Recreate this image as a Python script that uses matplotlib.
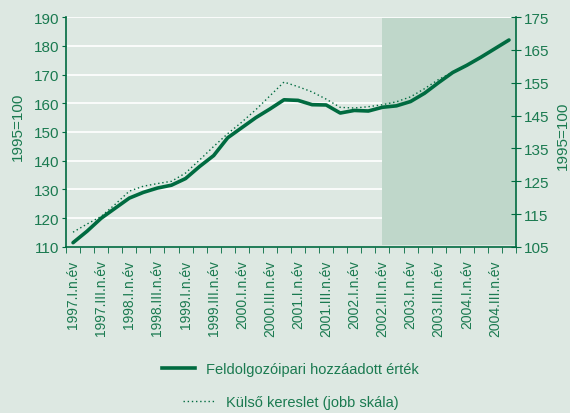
import numpy as np
import matplotlib
matplotlib.use('Agg')
from matplotlib import pyplot as plt
from matplotlib.lines import Line2D

plt.rcParams['font.family'] = ['Liberation Sans', 'DejaVu Sans']

roman = ['I', 'II', 'III', 'IV']
years = list(range(1997, 2005))
quarters = [f'{y}.{r}.n.év' for y in years for r in roman]

# Feldolgozóipari hozzáadott érték (bal skála)
value_added = [111.5, 115.5, 120.0, 123.5, 127.0, 129.0, 130.5, 131.5,
               133.8, 138.0, 141.8, 148.0, 151.5, 155.0, 158.0, 161.2,
               161.0, 159.5, 159.4, 156.6, 157.5, 157.3, 158.6, 159.1,
               160.6, 163.5, 167.2, 170.7, 173.2, 176.0, 179.0, 182.0]
# Külső kereslet (jobb skála)
ext_demand = [109.5, 112.0, 114.3, 118.0, 122.0, 123.5, 124.3, 125.0,
              127.5, 131.5, 135.6, 139.5, 143.0, 146.8, 151.0, 155.2,
              153.8, 152.2, 150.0, 147.5, 147.3, 147.7, 148.3, 149.2,
              150.7, 153.2, 156.0, 158.2, 160.1, 162.7, 165.4, 168.0]

bg = '#dde8e2'
shade = '#bfd7ca'
dark = '#006b40'
txt = '#1a7a50'

fig = plt.figure(figsize=(5.7, 4.14), dpi=100, facecolor=bg)
ax = fig.add_axes([0.1158, 0.401, 0.7895, 0.5555])
ax.set_facecolor(bg)
ax2 = ax.twinx()

x = np.arange(len(quarters)) + 0.5

ax.set_xlim(0, len(quarters))
ax.set_ylim(110, 190)
ax2.set_ylim(105, 175)

for v in range(120, 191, 10):
    ax.axhline(v, color='white', lw=1.2, zorder=0)
ax.axvspan(22.5, len(quarters), ymin=0.008, ymax=0.995, color=shade, lw=0, zorder=1)

ax.plot(x, value_added, color=dark, lw=2.6, zorder=4, solid_capstyle='round')
ax2.plot(x, ext_demand, color=dark, lw=1.0, ls=(0, (1, 2)), zorder=3)

ax.set_xticks(x[::2])
ax.set_xticklabels(quarters[::2], rotation=90, fontsize=10, color=txt)
ax.set_xticks(np.arange(len(quarters) + 1), minor=True)
ax.tick_params(axis='x', which='major', length=0, pad=9)
ax.tick_params(axis='x', which='minor', length=4, color=dark, direction='out')

ax.set_yticks(range(110, 191, 10))
ax.tick_params(axis='y', labelsize=11, labelcolor=txt, color=dark, length=3, pad=2)
ax2.set_yticks(range(105, 176, 10))
ax2.tick_params(axis='y', labelsize=11, labelcolor=txt, color=dark, length=7,
                direction='inout', pad=2)

fig.text(18 / 570, 1 - 127 / 414, '1995=100', rotation=90, fontsize=11,
         color=txt, ha='center', va='center')
fig.text(563 / 570, 1 - 136 / 414, '1995=100', rotation=90, fontsize=11,
         color=txt, ha='center', va='center')

for a in (ax, ax2):
    a.spines['top'].set_visible(False)
    for s in ('left', 'right', 'bottom'):
        a.spines[s].set_color(dark)
        a.spines[s].set_linewidth(1.2)
ax.spines['right'].set_visible(False)
ax2.spines['left'].set_visible(False)
ax2.spines['bottom'].set_visible(False)

h1 = Line2D([], [], color=dark, lw=2.6)
h2 = Line2D([], [], color=dark, lw=1.0, ls=(0, (1, 2)))
fig.legend([h1], ['Feldolgozóipari hozzáadott érték'], loc='center',
           bbox_to_anchor=(0.51, 1 - 370 / 414), frameon=False, fontsize=10.5,
           handlelength=2.2, labelcolor=txt)
fig.legend([h2], ['Külső kereslet (jobb skála)'], loc='center',
           bbox_to_anchor=(0.51, 1 - 403 / 414), frameon=False, fontsize=10.5,
           handlelength=2.2, labelcolor=txt)

fig.savefig('out.png', dpi=100, facecolor=bg)
